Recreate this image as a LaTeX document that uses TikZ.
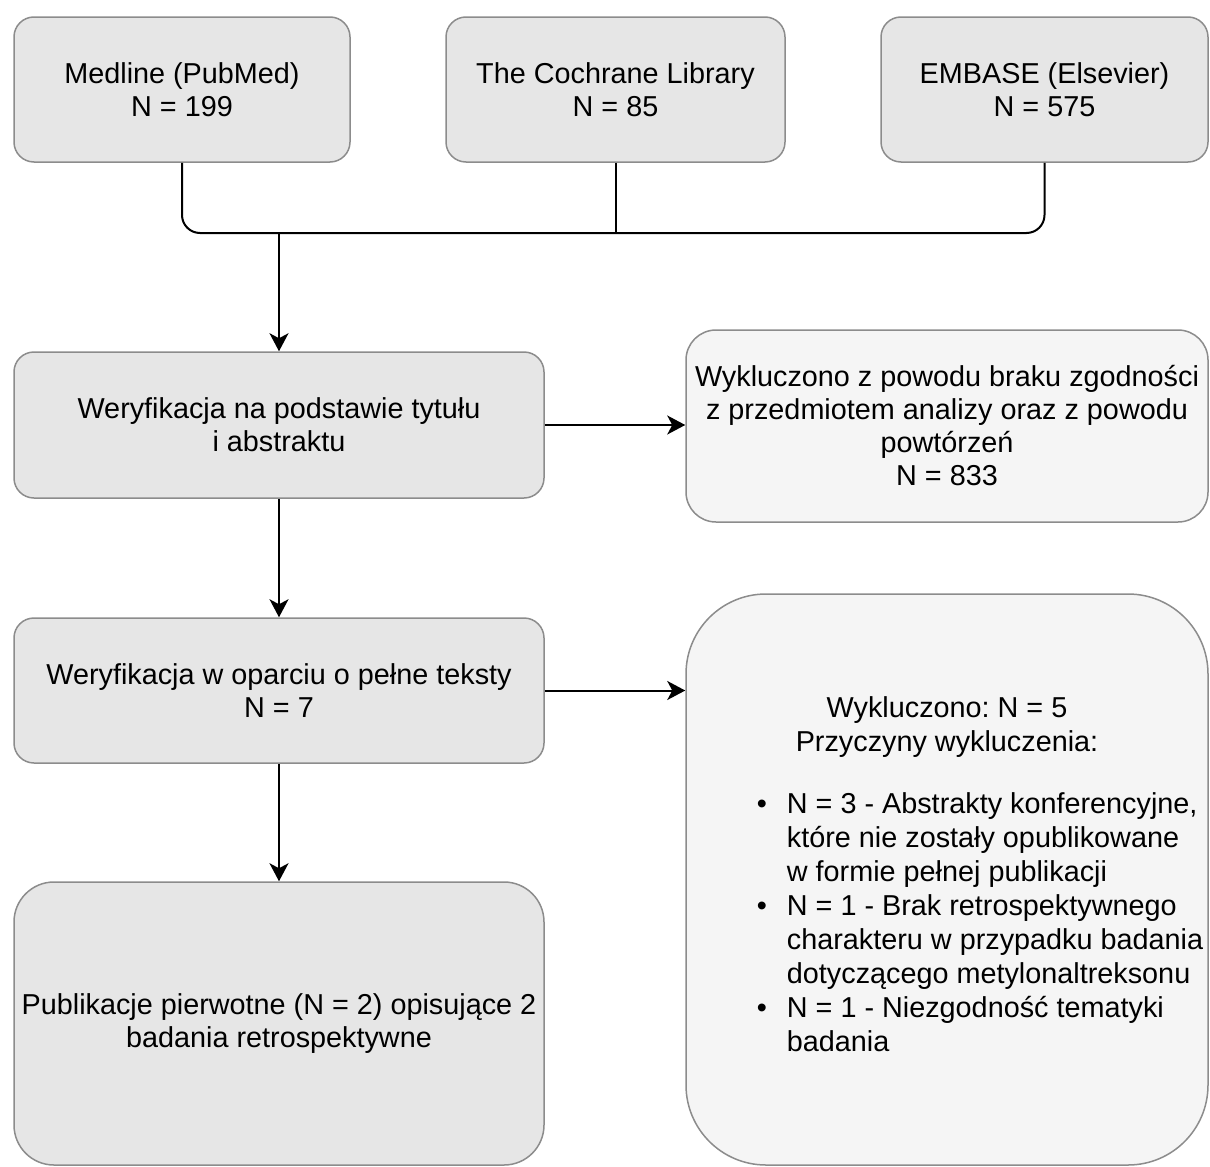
\documentclass[tikz,border=0pt]{standalone}
\usepackage{fontspec}
\setmainfont{Liberation Sans}
\usepackage{xcolor}
\usetikzlibrary{arrows.meta,positioning,calc}
\frenchspacing

\definecolor{boxline}{HTML}{8C8C8C}
\definecolor{boxfill}{HTML}{E6E6E6}
\definecolor{exclfill}{HTML}{F5F5F5}

\begin{document}
\begin{tikzpicture}[
    x=0.5pt, y=-0.5pt,
    box/.style={rectangle, draw=boxline, line width=0.75pt, fill=boxfill, rounded corners=10pt, minimum width=265pt, minimum height=72.5pt, inner sep=2pt, align=center, font=\fontsize{14.4}{16.5}\selectfont},
    excl/.style={box, fill=exclfill, minimum width=261pt, rounded corners=15pt},
    link/.style={black, line width=1pt},
    arrow/.style={link, -{Stealth[length=9pt, width=9.5pt, inset=2.5pt]}},
]
    \useasboundingbox (0,0) rectangle (1210,1167);

    % Databases
    \node[box, minimum width=168pt] (medline) at (182,89.5) {Medline (PubMed)\\N = 199};
    \node[box, minimum width=169.5pt] (cochrane) at (615.5,89.5) {The Cochrane Library\\N = 85};
    \node[box, minimum width=163.5pt] (embase) at (1044.5,89.5) {EMBASE (Elsevier)\\N = 575};

    % Screening
    \node[box, minimum height=73pt] (screen1) at (279,425) {Weryfikacja na podstawie tytułu\\i abstraktu};
    \node[box] (screen2) at (279,690.5) {Weryfikacja w oparciu o pełne teksty\\N = 7};
    \node[box, minimum height=141.5pt, rounded corners=20pt] (result) at (279,1023.5) {Publikacje pierwotne (N = 2) opisujące 2\\badania retrospektywne};

    % Exclusions
    \node[excl, minimum height=96pt] (excl1) at (947,426) {Wykluczono z powodu braku zgodności\\z przedmiotem analizy oraz z powodu\\powtórzeń\\N = 833};
    \node[excl, minimum height=285.5pt, rounded corners=40pt, font=\fontsize{14.4}{17}\selectfont] (excl2) at (947,879.5) {Wykluczono: N = 5\\Przyczyny wykluczenia:\\[15pt]
        \hspace*{33pt}\begin{tabular}{@{}l@{\hspace{10pt}}l@{}}
            \textbullet & N = 3 - Abstrakty konferencyjne,\\
             & które nie zostały opublikowane\\
             & w formie pełnej publikacji\\
            \textbullet & N = 1 - Brak retrospektywnego\\
             & charakteru w przypadku badania\\
             & dotyczącego metylonaltreksonu\\
            \textbullet & N = 1 - Niezgodność tematyki\\
             & badania
        \end{tabular}};

    % Merging the databases
    \coordinate (merge) at (279,233);
    \draw[link, rounded corners=9pt] (medline.south) |- (merge);
    \draw[link, rounded corners=9pt] (embase.south) |- (merge);
    \draw[link] (cochrane.south) -- (cochrane.south |- merge);

    % Arrows
    \draw[arrow] (merge) -- (screen1);
    \draw[arrow] (screen1) -- (screen2);
    \draw[arrow] (screen2) -- (result);
    \draw[arrow] (screen1.east) -- (screen1.east -| excl1.west);
    \draw[arrow] (screen2.east) -- (screen2.east -| excl2.west);
\end{tikzpicture}
\end{document}
